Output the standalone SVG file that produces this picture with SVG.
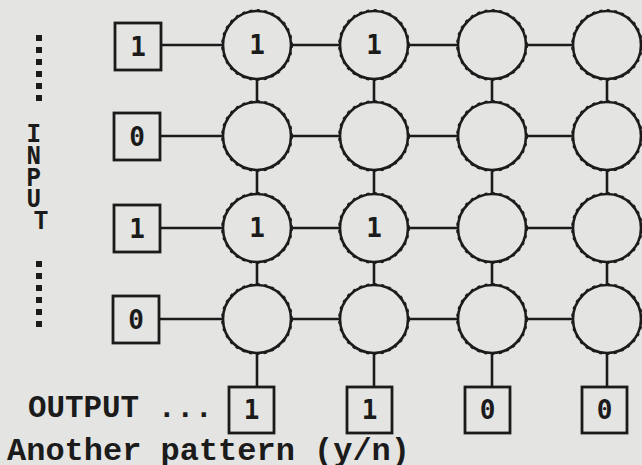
<svg xmlns="http://www.w3.org/2000/svg" width="642" height="465" viewBox="0 0 642 465">
  <style>
    .wire { stroke: #1b1b1b; stroke-width: 2.6; fill: none; }
    .cell { fill: none; stroke: #1b1b1b; stroke-width: 2.6; }
    .ripple { fill: none; stroke: #1b1b1b; stroke-width: 1.6; stroke-dasharray: 3 4.5; }
    .box { fill: none; stroke: #1b1b1b; stroke-width: 2.8; }
    .digit { font-family: "DejaVu Sans Mono", "Liberation Mono", monospace; font-weight: bold; font-size: 26px; fill: #1b1b1b; text-anchor: middle; }
    .word { font-family: "Liberation Mono", "DejaVu Sans Mono", monospace; font-weight: bold; fill: #1b1b1b; }
    .dots { stroke: #1b1b1b; stroke-width: 6; stroke-dasharray: 6 6; }
  </style>
  <defs>
    <g id="neuron">
      <circle class="cell" r="34"/>
      <circle class="ripple" r="35.1"/>
    </g>
  </defs>

  <rect width="642" height="465" fill="#e4e4e2"/>

  <!-- connectors: rows, columns and output drops -->
  <g id="connectors" class="wire">
    <line x1="161" y1="45" x2="223" y2="45"/>
    <line x1="291" y1="45" x2="340" y2="45"/>
    <line x1="408" y1="45" x2="458" y2="45"/>
    <line x1="526" y1="45" x2="573" y2="45"/>

    <line x1="160" y1="136" x2="223" y2="136"/>
    <line x1="291" y1="136" x2="340" y2="136"/>
    <line x1="408" y1="136" x2="458" y2="136"/>
    <line x1="526" y1="136" x2="573" y2="136"/>

    <line x1="160" y1="228" x2="223" y2="228"/>
    <line x1="291" y1="228" x2="340" y2="228"/>
    <line x1="408" y1="228" x2="458" y2="228"/>
    <line x1="526" y1="228" x2="573" y2="228"/>

    <line x1="159" y1="319" x2="223" y2="319"/>
    <line x1="291" y1="319" x2="340" y2="319"/>
    <line x1="408" y1="319" x2="458" y2="319"/>
    <line x1="526" y1="319" x2="573" y2="319"/>

    <line x1="257" y1="79" x2="257" y2="102"/>
    <line x1="257" y1="170" x2="257" y2="194"/>
    <line x1="257" y1="262" x2="257" y2="285"/>
    <line x1="257" y1="353" x2="257" y2="387"/>

    <line x1="374" y1="79" x2="374" y2="102"/>
    <line x1="374" y1="170" x2="374" y2="194"/>
    <line x1="374" y1="262" x2="374" y2="285"/>
    <line x1="374" y1="353" x2="374" y2="387"/>

    <line x1="492" y1="79" x2="492" y2="102"/>
    <line x1="492" y1="170" x2="492" y2="194"/>
    <line x1="492" y1="262" x2="492" y2="285"/>
    <line x1="492" y1="353" x2="492" y2="387"/>

    <line x1="607" y1="79" x2="607" y2="102"/>
    <line x1="607" y1="170" x2="607" y2="194"/>
    <line x1="607" y1="262" x2="607" y2="285"/>
    <line x1="607" y1="353" x2="607" y2="387"/>
  </g>

  <!-- input side label: dotted runs with the word stacked between -->
  <g id="input-label">
    <line class="dots" x1="39" y1="35" x2="39" y2="101"/>
    <text class="word" font-size="22" text-anchor="middle" transform="translate(41,0) scale(1.1,1.25)">
      <tspan x="0" y="114">I</tspan>
      <tspan x="0" y="131.5">N</tspan>
      <tspan x="0" y="149">P</tspan>
      <tspan x="0" y="166">U</tspan>
      <tspan x="0" y="183.5">T</tspan>
    </text>
    <line class="dots" x1="39" y1="261" x2="39" y2="327"/>
  </g>

  <!-- input cells -->
  <g id="in1"><rect class="box" x="115" y="23" width="46" height="47"/><text class="digit" x="138" y="56">1</text></g>
  <g id="in2"><rect class="box" x="114" y="113" width="46" height="47"/><text class="digit" x="137" y="146">0</text></g>
  <g id="in3"><rect class="box" x="114" y="205" width="46" height="47"/><text class="digit" x="137" y="238">1</text></g>
  <g id="in4"><rect class="box" x="113" y="296" width="46" height="47"/><text class="digit" x="136" y="329">0</text></g>

  <!-- grid of units -->
  <g id="n11" transform="translate(257,45)"><use href="#neuron"/><text class="digit" y="9">1</text></g>
  <g id="n12" transform="translate(374,45)"><use href="#neuron"/><text class="digit" y="9">1</text></g>
  <g id="n13" transform="translate(492,45)"><use href="#neuron"/></g>
  <g id="n14" transform="translate(607,45)"><use href="#neuron"/></g>

  <g id="n21" transform="translate(257,136)"><use href="#neuron"/></g>
  <g id="n22" transform="translate(374,136)"><use href="#neuron"/></g>
  <g id="n23" transform="translate(492,136)"><use href="#neuron"/></g>
  <g id="n24" transform="translate(607,136)"><use href="#neuron"/></g>

  <g id="n31" transform="translate(257,228)"><use href="#neuron"/><text class="digit" y="9">1</text></g>
  <g id="n32" transform="translate(374,228)"><use href="#neuron"/><text class="digit" y="9">1</text></g>
  <g id="n33" transform="translate(492,228)"><use href="#neuron"/></g>
  <g id="n34" transform="translate(607,228)"><use href="#neuron"/></g>

  <g id="n41" transform="translate(257,319)"><use href="#neuron"/></g>
  <g id="n42" transform="translate(374,319)"><use href="#neuron"/></g>
  <g id="n43" transform="translate(492,319)"><use href="#neuron"/></g>
  <g id="n44" transform="translate(607,319)"><use href="#neuron"/></g>

  <!-- output cells -->
  <g id="out1"><rect class="box" x="229" y="387" width="45" height="46"/><text class="digit" x="251.5" y="419">1</text></g>
  <g id="out2"><rect class="box" x="347" y="387" width="45" height="46"/><text class="digit" x="369.5" y="419">1</text></g>
  <g id="out3"><rect class="box" x="465" y="387" width="45" height="46"/><text class="digit" x="487.5" y="419">0</text></g>
  <g id="out4"><rect class="box" x="582" y="387" width="45" height="46"/><text class="digit" x="604.5" y="419">0</text></g>

  <!-- captions -->
  <text class="word" x="28" y="417" font-size="32" textLength="185" lengthAdjust="spacingAndGlyphs">OUTPUT ...</text>
  <text class="word" x="7" y="460" font-size="31" textLength="403" lengthAdjust="spacingAndGlyphs">Another pattern (y/n)</text>
</svg>
